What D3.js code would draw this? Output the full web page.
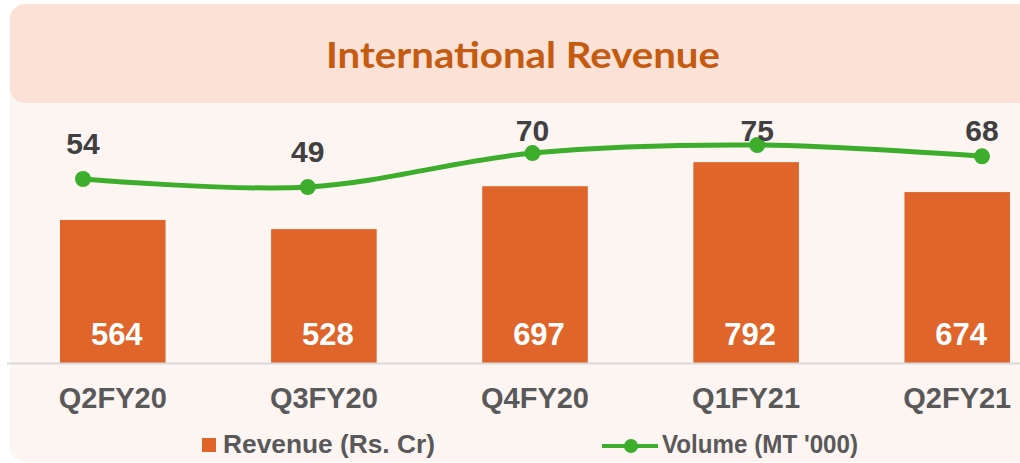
<!DOCTYPE html>
<html>
<head>
<meta charset="utf-8">
<script src="https://cdn.jsdelivr.net/npm/d3@7"></script>
<style>
  html, body { margin: 0; padding: 0; background: #ffffff; }
  svg { display: block; }
</style>
</head>
<body>
<svg id="chart" width="1020" height="463"></svg>
<script>
// data
var categories = ["Q2FY20", "Q3FY20", "Q4FY20", "Q1FY21", "Q2FY21"];
var revenue = [564, 528, 697, 792, 674];
var volume = [54, 49, 70, 75, 68];
var series_names = ["Revenue (Rs. Cr)", "Volume (MT '000)"];
var chart_title = "International Revenue";

const BAR_COLOR = '#E0652A';
const LINE_COLOR = '#3DAE2B';
const HEADER_COLOR = '#FCE1D6';
const BODY_COLOR = '#FDF5F2';
const TITLE_COLOR = '#C55A11';
const LABEL_DARK = '#404040';
const AXIS_TEXT = '#595959';
const FONT = '"Liberation Sans", Arial, sans-serif';

var svg = d3.select("#chart");

// panel background + header band
svg.append("rect")
    .attr("x", 10).attr("y", 4)
    .attr("width", 1040).attr("height", 458)
    .attr("rx", 15)
    .attr("fill", BODY_COLOR);

svg.append("rect")
    .attr("x", 10).attr("y", 4)
    .attr("width", 1040).attr("height", 99)
    .attr("rx", 15)
    .attr("fill", HEADER_COLOR);

svg.append("text")
    .attr("x", 523).attr("y", 68)
    .attr("text-anchor", "middle")
    .attr("font-family", 'Lato, "Open Sans", sans-serif')
    .attr("font-weight", "bold")
    .attr("font-size", 36)
    .attr("textLength", 394)
    .attr("lengthAdjust", "spacingAndGlyphs")
    .attr("fill", TITLE_COLOR)
    .text(chart_title);

// scales
var x = d3.scaleBand()
    .domain(categories)
    .range([7.2, 1062.8])
    .paddingInner(0.5)
    .paddingOuter(0.25);

var y = d3.scaleLinear()
    .domain([0, 1000])
    .range([363, 109.4]);

// line sits on its own (secondary) layout
var x2 = d3.scalePoint()
    .domain(categories)
    .range([83, 982]);

var y2 = d3.scaleLinear()
    .domain([0, 100])
    .range([266.4, 104.5]);

// bars
svg.append("g")
    .selectAll("rect")
    .data(revenue)
    .join("rect")
    .attr("x", function(d, i) { return x(categories[i]); })
    .attr("y", function(d) { return y(d); })
    .attr("width", x.bandwidth())
    .attr("height", function(d) { return y(0) - y(d); })
    .attr("fill", BAR_COLOR);

// axis line
svg.append("line")
    .attr("x1", 7).attr("x2", 1020)
    .attr("y1", y(0) + 0.5).attr("y2", y(0) + 0.5)
    .attr("stroke", "#D9D9D9")
    .attr("stroke-width", 2);

// bar value labels
svg.append("g")
    .selectAll("text")
    .data(revenue)
    .join("text")
    .attr("x", function(d, i) { return x(categories[i]) + x.bandwidth() / 2 + 4; })
    .attr("y", y(0) - 18)
    .attr("text-anchor", "middle")
    .attr("font-family", FONT)
    .attr("font-weight", "bold")
    .attr("font-size", 31)
    .attr("fill", "#ffffff")
    .text(function(d) { return d; });

// category axis labels
var xAxis = svg.append("g")
    .attr("transform", "translate(0," + y(0) + ")")
    .call(d3.axisBottom(x).tickSize(0).tickPadding(0));
xAxis.select(".domain").remove();
xAxis.selectAll("text")
    .attr("dy", null)
    .attr("y", 45)
    .attr("font-family", FONT)
    .attr("font-weight", "bold")
    .attr("font-size", 29)
    .attr("fill", AXIS_TEXT);

// volume line
var line = d3.line()
    .x(function(d, i) { return x2(categories[i]); })
    .y(function(d) { return y2(d); })
    .curve(d3.curveCatmullRom.alpha(0.5));

svg.append("path")
    .datum(volume)
    .attr("d", line)
    .attr("fill", "none")
    .attr("stroke", LINE_COLOR)
    .attr("stroke-width", 5);

svg.append("g")
    .selectAll("circle")
    .data(volume)
    .join("circle")
    .attr("cx", function(d, i) { return x2(categories[i]); })
    .attr("cy", function(d) { return y2(d); })
    .attr("r", 8)
    .attr("fill", LINE_COLOR);

// line value labels, kept inside the plot top
svg.append("g")
    .selectAll("text")
    .data(volume)
    .join("text")
    .attr("x", function(d, i) { return x2(categories[i]); })
    .attr("y", function(d) { return Math.max(y2(d) - 25, 141); })
    .attr("text-anchor", "middle")
    .attr("font-family", FONT)
    .attr("font-weight", "bold")
    .attr("font-size", 30)
    .attr("fill", LABEL_DARK)
    .text(function(d) { return d; });

// legend
var legend = svg.append("g")
    .attr("font-family", FONT)
    .attr("font-weight", "bold")
    .attr("font-size", 25)
    .attr("fill", AXIS_TEXT);

legend.append("rect")
    .attr("x", 202).attr("y", 438)
    .attr("width", 14).attr("height", 14)
    .attr("fill", BAR_COLOR);
legend.append("text")
    .attr("x", 223).attr("y", 453)
    .attr("textLength", 212)
    .attr("lengthAdjust", "spacingAndGlyphs")
    .text(series_names[0]);

legend.append("line")
    .attr("x1", 602).attr("x2", 658)
    .attr("y1", 446).attr("y2", 446)
    .attr("stroke", LINE_COLOR)
    .attr("stroke-width", 4);
legend.append("circle")
    .attr("cx", 631).attr("cy", 446)
    .attr("r", 7)
    .attr("fill", LINE_COLOR);
legend.append("text")
    .attr("x", 662).attr("y", 453)
    .attr("textLength", 196)
    .attr("lengthAdjust", "spacingAndGlyphs")
    .text(series_names[1]);
</script>
</body>
</html>
